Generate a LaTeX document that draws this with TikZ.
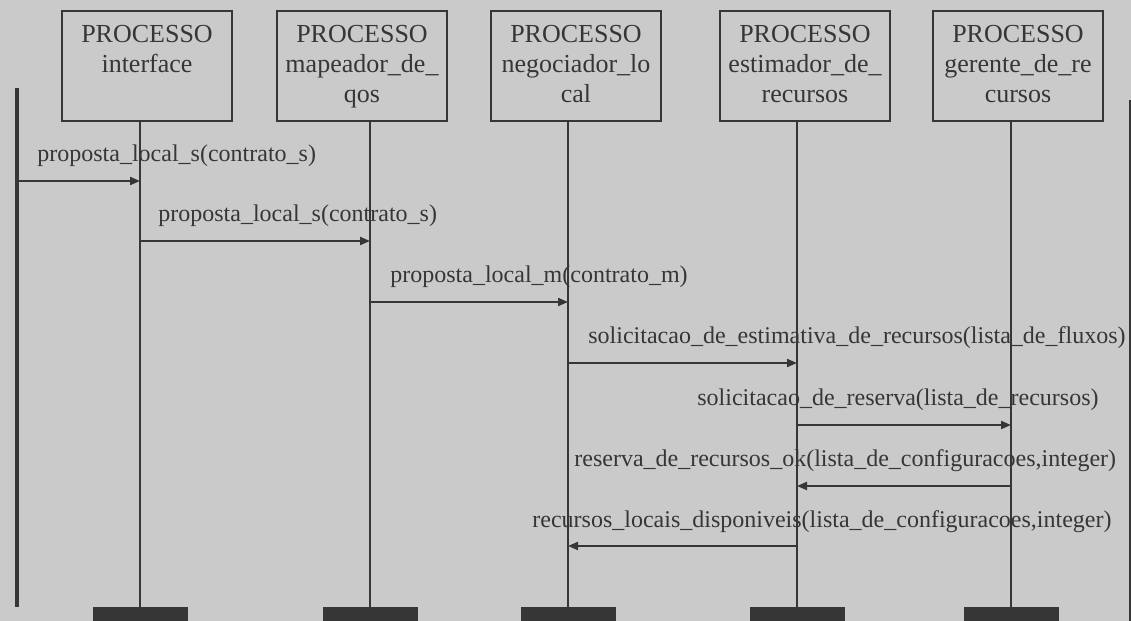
\documentclass[tikz,border=0pt]{standalone}
\usepackage{fontspec}
\setmainfont{Liberation Serif}
\usepackage{tikz}
\usetikzlibrary{arrows.meta, positioning}
\usepackage{xcolor}
\definecolor{ScanGray}{HTML}{CACACA}
\definecolor{InkGray}{HTML}{363636}

\newcommand{\proc}[1]{\parbox[c][41pt][t]{80pt}{\centering PROCESSO\\#1}}

\tikzset{
  procbox/.style={draw=InkGray, line width=1.1pt, fill=ScanGray, anchor=north,
                  minimum width=85pt, minimum height=55pt, inner xsep=2.5pt,
                  inner ysep=7pt, text=InkGray, font=\fontsize{13}{15}\selectfont},
  lifeline/.style={draw=InkGray, line width=1pt},
  endbox/.style={fill=InkGray, anchor=north, minimum width=47.5pt,
                 minimum height=9pt, inner sep=0pt},
  msg/.style={draw=InkGray, line width=1pt,
              -{Triangle[length=5pt, width=4pt]}},
  msglabel/.style={anchor=base west, inner sep=0pt, text=InkGray,
                   font=\fontsize{12}{14}\selectfont}
}

\begin{document}
\begin{tikzpicture}[x=0.5pt, y=-0.5pt]
  \fill[ScanGray] (0,0) rectangle (1131,621);
  \useasboundingbox (0,0) rectangle (1131,621);

  % processos
  \node[procbox] (interface)  at (147,10)  {\proc{interface}};
  \node[procbox] (mapeador)   at (362,10)  {\proc{mapeador\_de\_\\qos}};
  \node[procbox] (negociador) at (576,10)  {\proc{negociador\_lo\\cal}};
  \node[procbox] (estimador)  at (805,10)  {\proc{estimador\_de\_\\recursos}};
  \node[procbox] (gerente)    at (1018,10) {\proc{gerente\_de\_re\\cursos}};

  % linhas de vida
  \foreach \p/\x in {interface/140, mapeador/370, negociador/568,
                     estimador/797, gerente/1011} {
    \coordinate (\p-top) at (\x,0 |- \p.south);
    \coordinate (\p-end) at (\x,607);
    \draw[lifeline] (\p-top) -- (\p-end);
    \node[endbox] (\p-base) at (\p-end) {};
  }

  % ator e borda
  \coordinate (ator-top) at (17,88);
  \coordinate (ator-end) at (17,607);
  \draw[draw=InkGray, line width=2pt] (ator-top) -- (ator-end);
  \coordinate (borda-top) at (1130,100);
  \coordinate (borda-end) at (1130,621);
  \draw[lifeline] (borda-top) -- (borda-end);

  % mensagens
  \draw[msg] (ator-top |- 0,181) -- (interface-top |- 0,181);
  \node[msglabel] (m1) at (37,161) {proposta\_local\_s(contrato\_s)};

  \draw[msg] (interface-top |- 0,241) -- (mapeador-top |- 0,241);
  \node[msglabel] (m2) at (158,221) {proposta\_local\_s(contrato\_s)};

  \draw[msg] (mapeador-top |- 0,302) -- (negociador-top |- 0,302);
  \node[msglabel] (m3) at (390,282) {proposta\_local\_m(contrato\_m)};

  \draw[msg] (negociador-top |- 0,363) -- (estimador-top |- 0,363);
  \node[msglabel] (m4) at (588,343) {solicitacao\_de\_estimativa\_de\_recursos(lista\_de\_fluxos)};

  \draw[msg] (estimador-top |- 0,425) -- (gerente-top |- 0,425);
  \node[msglabel] (m5) at (697,405) {solicitacao\_de\_reserva(lista\_de\_recursos)};

  \draw[msg] (gerente-top |- 0,486) -- (estimador-top |- 0,486);
  \node[msglabel] (m6) at (574,466) {reserva\_de\_recursos\_ok(lista\_de\_configuracoes,integer)};

  \draw[msg] (estimador-top |- 0,546) -- (negociador-top |- 0,546);
  \node[msglabel] (m7) at (532,527) {recursos\_locais\_disponiveis(lista\_de\_configuracoes,integer)};
\end{tikzpicture}
\end{document}
